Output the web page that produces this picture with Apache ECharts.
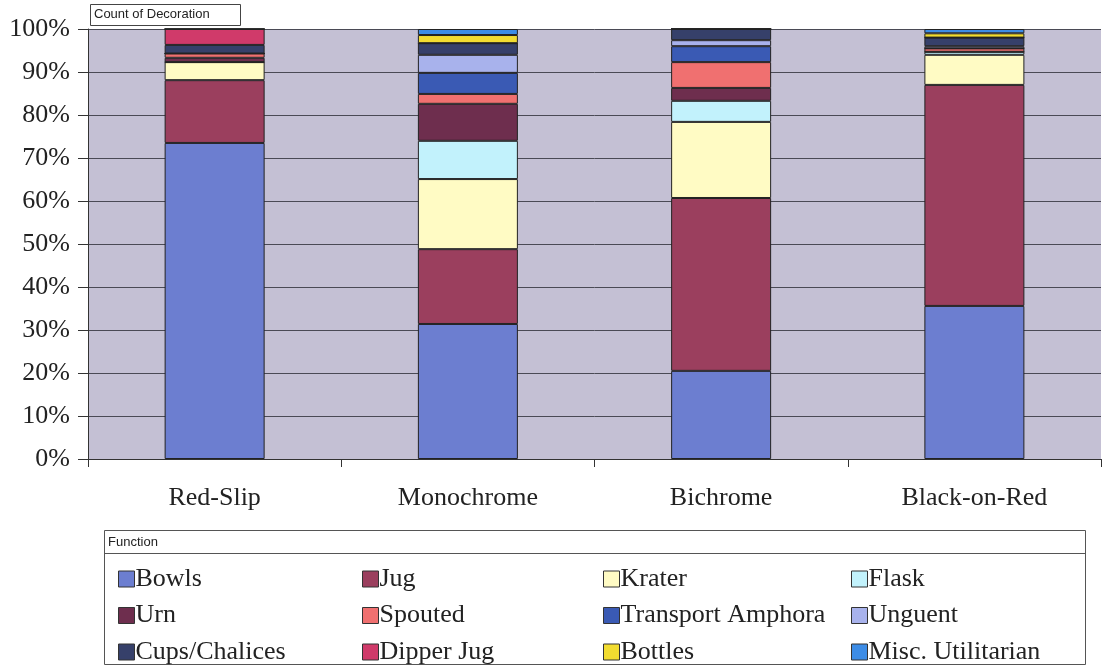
<!DOCTYPE html>
<html><head><meta charset="utf-8">
<script src="https://cdn.jsdelivr.net/npm/echarts@6/dist/echarts.min.js"></script>
<style>html,body{margin:0;padding:0;background:#fff}#c{width:1106px;height:671px}</style>
</head><body><div id="c"></div>
<script>
const categories = ['Red-Slip', 'Monochrome', 'Bichrome', 'Black-on-Red'];
const yTicks = [0,10,20,30,40,50,60,70,80,90,100];
const seriesNames = ['Bowls','Jug','Krater','Flask','Urn','Spouted','Transport Amphora','Unguent','Cups/Chalices','Dipper Jug','Bottles','Misc. Utilitarian'];
const bowls    = [73.5, 31.4, 20.5, 35.6];
const jug      = [14.6, 17.4, 40.2, 51.4];
const krater   = [4.2, 16.3, 17.7, 7.0];
const flask    = [0, 8.9, 4.9, 0.7];
const urn      = [1.0, 8.6, 3.0, 0];
const spouted  = [1.0, 2.3, 6.0, 0.8];
const amphora  = [0, 4.9, 3.7, 0];
const unguent  = [0, 4.2, 1.4, 0.5];
const cups     = [2.0, 2.7, 2.6, 2.0];
const dipper   = [3.7, 0, 0, 0];
const bottles  = [0, 1.9, 0, 1.0];
const misc     = [0, 1.4, 0, 1.0];
const values = [bowls, jug, krater, flask, urn, spouted, amphora, unguent, cups, dipper, bottles, misc];
const colors = ['#6C7ED0','#9B3F5E','#FFFBC4','#C2F2FC','#6E2E4E','#F07070','#3A5AB4','#A8B2EC','#36406A','#D03A6A','#F2DC30','#3C8CE6'];

const serif = '"Liberation Serif","Times New Roman",serif';
const chart = echarts.init(document.getElementById('c'), null, {renderer:'canvas'});
const series = seriesNames.map((n,i)=>({
  name:n, type:'bar', stack:'s', barWidth:100,
  data: values[i],
  itemStyle:{color:colors[i], borderColor:'#222', borderWidth:1},
  emphasis:{disabled:true}
}));
const legendCols = [0,1,2,3].map(c=>({
  orient:'vertical', left:[113,357,598,846][c], top:561, height:140, width:240,
  itemWidth:16, itemHeight:16, itemGap:10.5,
  icon:'rect',
  itemStyle:{borderColor:'#333', borderWidth:1},
  textStyle:{fontFamily:serif, fontSize:26, color:'#222', lineHeight:26, padding:[0,0,0,-4]},
  selectedMode:false,
  data:[seriesNames[c], seriesNames[c+4], seriesNames[c+8]]
}));
chart.setOption({
  animation:false,
  backgroundColor:'#fff',
  grid:{left:88, right:5, top:29, bottom:212, backgroundColor:'#C4C0D4', show:true, borderWidth:0},
  xAxis:{type:'category', data:categories,
    axisLine:{lineStyle:{color:'#333', width:1}},
    axisTick:{show:true, length:8, lineStyle:{color:'#333'}},
    axisLabel:{fontFamily:serif, fontSize:26, color:'#222', margin:26}},
  yAxis:{type:'value', min:0, max:100, interval:10,
    axisLine:{show:true, lineStyle:{color:'#333'}},
    axisTick:{show:true, length:10, lineStyle:{color:'#333'}},
    splitLine:{lineStyle:{color:'#4a4a55', width:1}},
    axisLabel:{fontFamily:serif, fontSize:26, color:'#222', margin:18,
      formatter:v=> yTicks.includes(v) ? v+'%' : ''}},
  legend:legendCols,
  series:series,
  graphic:[
    {type:'rect', shape:{x:90.5,y:4.5,width:150,height:21}, style:{fill:'#fff', stroke:'#444', lineWidth:1}, z:100},
    {type:'text', left:94, top:8, style:{text:'Count of Decoration', font:'13px "Liberation Sans",Arial,sans-serif', fill:'#222'}, z:101},
    {type:'rect', shape:{x:104.5,y:530.5,width:981,height:134}, style:{fill:'none', stroke:'#555', lineWidth:1}, z:100},
    {type:'line', shape:{x1:104.5,y1:553.5,x2:1085.5,y2:553.5}, style:{stroke:'#555', lineWidth:1}, z:100},
    {type:'text', left:108, top:536, style:{text:'Function', font:'13px "Liberation Sans",Arial,sans-serif', fill:'#222'}, z:101}
  ]
});
</script></body></html>
